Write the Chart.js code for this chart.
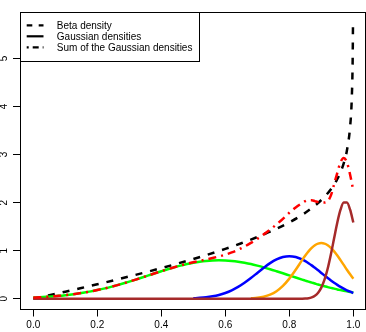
<!DOCTYPE html>
<html><head><meta charset="utf-8">
<script src="https://cdn.jsdelivr.net/npm/chart.js@4.4.1/dist/chart.umd.min.js"></script>
<style>html,body{margin:0;padding:0;background:#fff;}canvas{display:block;}</style>
</head><body>
<canvas id="c" width="366" height="332"></canvas>
<script>
// ---- data ----
const betaX = [0, 0.05, 0.1, 0.15, 0.2, 0.25, 0.3, 0.35, 0.4, 0.45, 0.5, 0.55, 0.6, 0.65, 0.7, 0.75, 0.8, 0.85, 0.9, 0.93, 0.95, 0.97, 0.98, 0.99, 0.995, 0.998, 0.999];
const betaY = [0, 0.073, 0.147, 0.223, 0.301, 0.381, 0.464, 0.549, 0.638, 0.730, 0.827, 0.929, 1.038, 1.155, 1.283, 1.425, 1.589, 1.789, 2.054, 2.280, 2.491, 2.817, 3.086, 3.581, 4.134, 4.981, 5.727];

const gx = [0, 0.02, 0.04, 0.06, 0.08, 0.10, 0.12, 0.14, 0.16, 0.18, 0.20, 0.22, 0.24, 0.26, 0.28, 0.30, 0.32, 0.34, 0.36, 0.38, 0.40, 0.42, 0.44, 0.46, 0.48, 0.50, 0.52, 0.54, 0.56, 0.58, 0.60, 0.62, 0.64, 0.66, 0.68, 0.70, 0.72, 0.74, 0.76, 0.78, 0.80, 0.82, 0.84, 0.85, 0.86, 0.87, 0.88, 0.89, 0.90, 0.91, 0.92, 0.93, 0.94, 0.95, 0.96, 0.97, 0.98, 0.99, 1.00];

const green = [0.025, 0.031, 0.039, 0.049, 0.060, 0.074, 0.090, 0.108, 0.129, 0.153, 0.180, 0.210, 0.242, 0.278, 0.316, 0.356, 0.398, 0.441, 0.485, 0.529, 0.572, 0.614, 0.653, 0.689, 0.722, 0.749, 0.771, 0.787, 0.797, 0.800, 0.797, 0.787, 0.771, 0.749, 0.722, 0.689, 0.653, 0.614, 0.572, 0.529, 0.485, 0.441, 0.398, 0.377, 0.356, 0.336, 0.316, 0.296, 0.278, 0.260, 0.242, 0.226, 0.210, 0.194, 0.180, 0.166, 0.153, 0.141, 0.129];

const blue = [null, null, null, null, null, null, null, null, null, null, null, null, null, null, null, null, null, null, null, null, null, null, null, null, null, 0.010, 0.018, 0.030, 0.050, 0.079, 0.120, 0.175, 0.246, 0.333, 0.431, 0.537, 0.643, 0.740, 0.818, 0.869, 0.886, 0.869, 0.818, 0.782, 0.740, 0.694, 0.643, 0.591, 0.537, 0.484, 0.431, 0.381, 0.333, 0.288, 0.246, 0.209, 0.175, 0.146, 0.120];

const orange = [null, null, null, null, null, null, null, null, null, null, null, null, null, null, null, null, null, null, null, null, null, null, null, null, null, null, null, null, null, null, null, null, null, null, 0.008, 0.020, 0.043, 0.085, 0.157, 0.267, 0.418, 0.604, 0.803, 0.899, 0.985, 1.058, 1.114, 1.148, 1.160, 1.148, 1.114, 1.058, 0.985, 0.899, 0.803, 0.704, 0.604, 0.508, 0.418];

const brown = [0, 0, 0, 0, 0, 0, 0, 0, 0, 0, 0, 0, 0, 0, 0, 0, 0, 0, 0, 0, 0, 0, 0, 0, 0, 0, 0, 0, 0, 0, 0, 0, 0, 0, 0, 0, 0, 0, 0, 0, 0, 0, 0.002, 0.005, 0.012, 0.029, 0.062, 0.124, 0.231, 0.396, 0.629, 0.925, 1.259, 1.587, 1.852, 2.001, 2.001, 1.852, 1.587];

const sumY = [0.025, 0.031, 0.039, 0.049, 0.060, 0.074, 0.090, 0.108, 0.129, 0.153, 0.180, 0.210, 0.242, 0.278, 0.316, 0.356, 0.398, 0.441, 0.485, 0.529, 0.572, 0.615, 0.654, 0.692, 0.727, 0.759, 0.789, 0.817, 0.847, 0.879, 0.917, 0.963, 1.019, 1.085, 1.161, 1.246, 1.339, 1.439, 1.547, 1.663, 1.789, 1.900, 1.990, 2.030, 2.050, 2.050, 2.030, 2.010, 2.000, 2.000, 2.030, 2.150, 2.380, 2.620, 2.840, 2.930, 2.840, 2.580, 2.250];

const xTickValues = [0, 0.2, 0.4, 0.6, 0.8, 1.0];
const xTickLabels = ['0.0', '0.2', '0.4', '0.6', '0.8', '1.0'];
const yTickValues = [0, 1, 2, 3, 4, 5];
const yTickLabels = ['0', '1', '2', '3', '4', '5'];
const legendLabels = ['Beta density', 'Gaussian densities', 'Sum of the Gaussian densities'];

// ---- styling ----
const FONT = "'Liberation Sans', Arial, Helvetica, sans-serif";
const LW = 2.5;
const DASH = [7, 8];
const DASHDOT = [8, 5, 2, 5];

function pts(xs, ys) {
  const out = [];
  xs.forEach((x, i) => { if (ys[i] !== null) out.push({ x: x, y: ys[i] }); });
  return out;
}
function line(label, xs, ys, color, dash, order) {
  return {
    label: label, data: pts(xs, ys), borderColor: color, backgroundColor: color,
    borderWidth: LW, borderDash: dash, pointRadius: 0, pointHoverRadius: 0, fill: false,
    cubicInterpolationMode: 'monotone', borderCapStyle: 'butt', borderJoinStyle: 'round', order: order
  };
}

const framePlugin = {
  id: 'frameAndLegend',
  afterDraw(chart) {
    const ctx = chart.ctx, a = chart.chartArea;
    ctx.save();
    ctx.strokeStyle = '#000';
    ctx.lineWidth = 1;
    ctx.setLineDash([]);
    const L = Math.round(a.left) + 0.5, T = Math.round(a.top) + 0.5;
    const R = Math.round(a.right) - 0.5, B = Math.round(a.bottom) - 0.5;
    ctx.strokeRect(L, T, R - L, B - T);
    // legend box (top-left inside plot)
    const lx = L, ly = T, lw = 179, lh = 49;
    ctx.fillStyle = '#fff';
    ctx.fillRect(lx, ly, lw, lh);
    ctx.strokeRect(lx, ly, lw, lh);
    const styles = [DASH.map(v => v * 0.8), [], [2, 4, 6, 4]];
    ctx.font = '10px ' + FONT;
    ctx.textBaseline = 'middle';
    ctx.textAlign = 'left';
    legendLabels.forEach((txt, i) => {
      const y = ly + 12.8 + i * 11;
      ctx.beginPath();
      ctx.setLineDash(styles[i]);
      ctx.lineWidth = 2.2;
      ctx.lineCap = 'butt';
      ctx.moveTo(lx + 6.2, y);
      ctx.lineTo(lx + 23, y);
      ctx.stroke();
      ctx.setLineDash([]);
      ctx.fillStyle = '#000';
      ctx.fillText(txt, lx + 36.3, y + 0.5);
    });
    ctx.restore();
  }
};

new Chart(document.getElementById('c'), {
  type: 'line',
  data: {
    datasets: [
      line('Beta density', betaX, betaY, '#000000', DASH, 6),
      line('Gaussian density 1', gx, green, '#00ff00', [], 5),
      line('Gaussian density 2', gx, blue, '#0000ff', [], 4),
      line('Gaussian density 3', gx, orange, '#ffa500', [], 3),
      line('Gaussian density 4', gx, brown, '#a52a2a', [], 2),
      line('Sum of the Gaussian densities', gx, sumY, '#ff0000', DASHDOT, 1)
    ]
  },
  options: {
    responsive: false, animation: false, devicePixelRatio: 1,
    layout: { padding: { left: 0, right: 0.4, top: 0, bottom: 0 } },
    plugins: { legend: { display: false }, tooltip: { enabled: false } },
    scales: {
      x: {
        type: 'linear', min: -0.0416, max: 1.0384,
        afterFit(s) { s.height = 22.5; },
        afterBuildTicks(s) { s.ticks = xTickValues.map(v => ({ value: v })); },
        ticks: {
          callback: (v) => xTickLabels[xTickValues.indexOf(v)],
          font: { family: FONT, size: 10 }, color: '#000', padding: 3,
          minRotation: 0, maxRotation: 0, autoSkip: false
        },
        grid: { drawOnChartArea: false, drawTicks: true, tickLength: 7, color: '#000', lineWidth: 1 },
        border: { display: false }
      },
      y: {
        type: 'linear', min: -0.224, max: 5.966,
        afterFit(s) { s.width = 20; },
        afterBuildTicks(s) { s.ticks = yTickValues.map(v => ({ value: v })); },
        ticks: {
          callback: (v) => yTickLabels[yTickValues.indexOf(v)],
          font: { family: FONT, size: 10 }, color: '#000', padding: 6,
          minRotation: 90, maxRotation: 90, crossAlign: 'center', autoSkip: false
        },
        grid: { drawOnChartArea: false, drawTicks: true, tickLength: 7, color: '#000', lineWidth: 1 },
        border: { display: false }
      }
    }
  },
  plugins: [framePlugin]
});
</script>
</body></html>
